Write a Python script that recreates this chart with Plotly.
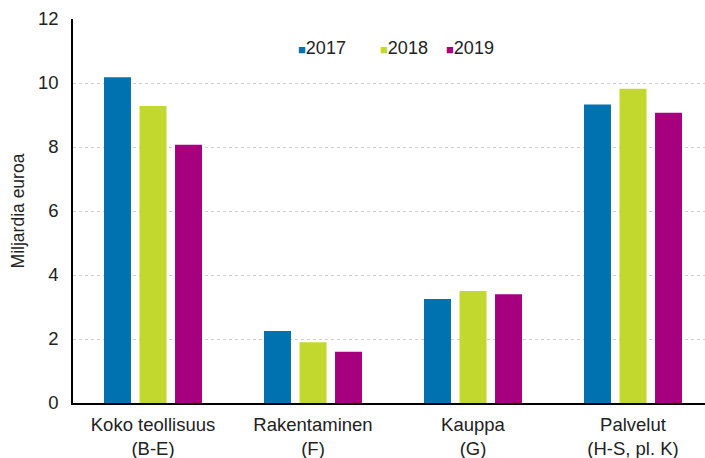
import plotly.graph_objects as go

categories = ["Koko teollisuus<br>(B-E)", "Rakentaminen<br>(F)", "Kauppa<br>(G)", "Palvelut<br>(H-S, pl. K)"]
years = ["2017", "2018", "2019"]
v2017 = [10.18, 2.25, 3.25, 9.33]
v2018 = [9.28, 1.9, 3.5, 9.82]
v2019 = [8.07, 1.6, 3.4, 9.07]
colors = ["#0072B0", "#C2D82E", "#A6007F"]

fig = go.Figure()
for name, vals, col in zip(years, [v2017, v2018, v2019], colors):
    fig.add_trace(go.Bar(name=name, x=categories, y=vals, showlegend=False,
                         marker=dict(color=col, line=dict(width=0))))

# legend drawn as text: coloured square glyph + year
legend_left_px = [296, 378, 444]
for name, col, px in zip(years, colors, legend_left_px):
    fig.add_annotation(
        xref="paper", yref="paper", x=(px - 73) / 632, y=0.924,
        xanchor="left", yanchor="middle", showarrow=False,
        text=f'<span style="font-size:13px;color:{col}">■</span>{name}',
        font=dict(size=18, color="#222"))

font = "Liberation Sans, Arial, sans-serif"
fig.update_layout(
    width=705, height=458,
    margin=dict(l=73, r=0, t=19, b=55),
    paper_bgcolor="white", plot_bgcolor="white",
    barmode="group", bargap=0.334, bargroupgap=0.24,
    font=dict(family=font, size=18, color="#222"),
    showlegend=False,
    xaxis=dict(range=[-0.5, 3.45], showline=True, linecolor="#000", linewidth=1.5,
               showgrid=False, ticks="", tickfont=dict(size=18.5, color="#222"), ticklabelstandoff=4),
    yaxis=dict(range=[0, 12], dtick=2, showline=True, linecolor="#000", linewidth=1.5,
               showgrid=True, gridcolor="#cfcfcf", griddash="dot", gridwidth=1,
               ticks="", tickfont=dict(size=18.5, color="#222"), ticklabelstandoff=9,
               zeroline=False,
               title=dict(text="Miljardia euroa", font=dict(size=17.5, color="#222"), standoff=9)),
)
fig.write_html("out.html")
